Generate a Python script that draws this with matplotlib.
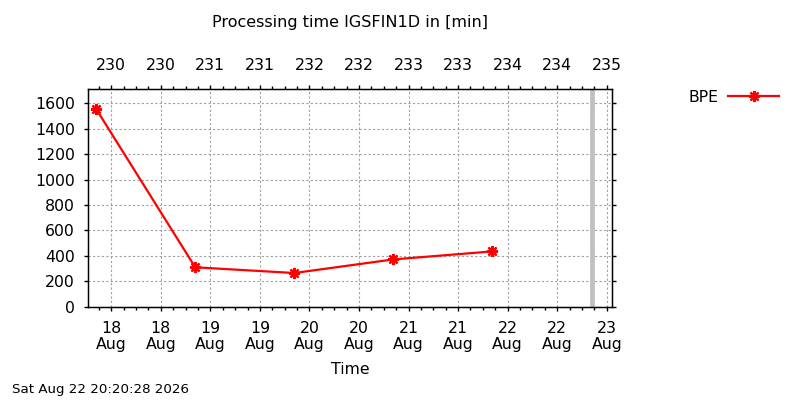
import matplotlib
matplotlib.use("Agg")
import matplotlib.pyplot as plt
import matplotlib.dates as mdates
from matplotlib.ticker import FixedLocator, MultipleLocator
from datetime import datetime

# ---- data ----
times = ["2026-08-17 20:20", "2026-08-18 20:20", "2026-08-19 20:20",
         "2026-08-20 20:20", "2026-08-21 20:20"]
bpe_values = [1555, 310, 265, 372, 435]
series_label = "BPE"
now_str = "2026-08-22 20:20"
x_start_str = "2026-08-17 18:26"
x_end_str = "2026-08-23 01:17"
y_max = 1710
y_ticks = [0, 200, 400, 600, 800, 1000, 1200, 1400, 1600]
bottom_tick_times = ["2026-08-18 00:00", "2026-08-18 12:00", "2026-08-19 00:00",
                     "2026-08-19 12:00", "2026-08-20 00:00", "2026-08-20 12:00",
                     "2026-08-21 00:00", "2026-08-21 12:00", "2026-08-22 00:00",
                     "2026-08-22 12:00", "2026-08-23 00:00"]
bottom_tick_labels = ["18\nAug", "18\nAug", "19\nAug", "19\nAug", "20\nAug", "20\nAug",
                      "21\nAug", "21\nAug", "22\nAug", "22\nAug", "23\nAug"]
top_tick_labels = ["230", "230", "231", "231", "232", "232", "233", "233", "234", "234", "235"]
title = "Processing time IGSFIN1D in [min]"
xlabel = "Time"
timestamp = "Sat Aug 22 20:20:28 2026"

fmt = "%Y-%m-%d %H:%M"
x = [mdates.date2num(datetime.strptime(t, fmt)) for t in times]
xt = [mdates.date2num(datetime.strptime(t, fmt)) for t in bottom_tick_times]
now = mdates.date2num(datetime.strptime(now_str, fmt))
x0 = mdates.date2num(datetime.strptime(x_start_str, fmt))
x1 = mdates.date2num(datetime.strptime(x_end_str, fmt))

plt.rcParams['font.family'] = ['DejaVu Sans']
FS = 11.3

fig = plt.figure(figsize=(8, 4), dpi=100)
ax = fig.add_axes([88.3 / 800, 1 - 306.7 / 400, (612 - 88.3) / 800, (306.7 - 89.3) / 400])

ax.axvline(now, color="#c0c0c0", lw=3.4, zorder=1)
ax.plot(x, bpe_values, color="red", lw=1.6, marker=(8, 2, 0), markersize=8,
        markeredgewidth=1.6, label=series_label, zorder=3)

ax.set_xlim(x0, x1)
ax.set_ylim(0, y_max)
ax.xaxis.set_major_locator(FixedLocator(xt))
ax.set_xticklabels(bottom_tick_labels, fontsize=FS, linespacing=1.12)
ax.xaxis.set_minor_locator(MultipleLocator(0.125))
ax.set_yticks(y_ticks)
ax.set_yticklabels([str(v) for v in y_ticks], fontsize=FS)
ax.tick_params(axis='both', which='major', direction='out', length=3, width=1)
ax.tick_params(axis='x', which='major', pad=7)
ax.tick_params(axis='y', which='major', pad=6.5, right=True)
ax.tick_params(axis='x', which='minor', direction='out', length=2, width=1)
ax.grid(True, which='major', color='#a0a0a0', linestyle=(0, (2, 2)), linewidth=0.8)
ax.set_axisbelow(True)
for s in ax.spines.values():
    s.set_linewidth(1)

ax.set_xlabel(xlabel, fontsize=FS, labelpad=7)

ax2 = ax.twiny()
ax2.set_xlim(x0, x1)
ax2.xaxis.set_major_locator(FixedLocator(xt))
ax2.set_xticklabels(top_tick_labels, fontsize=FS)
ax2.xaxis.set_minor_locator(MultipleLocator(0.125))
ax2.tick_params(axis='x', which='major', direction='out', length=3, width=1, pad=9)
ax2.tick_params(axis='x', which='minor', direction='out', length=2, width=1)

fig.text(350 / 800, 1 - 23 / 400, title, ha='center', va='center', fontsize=11.5)
fig.text(12 / 800, 1 - 390 / 400, timestamp, ha='left', va='center', fontsize=9.6)

handles, labels = ax.get_legend_handles_labels()
fig.legend(handles, labels, loc='center left', bbox_to_anchor=(689 / 800, 1 - 97 / 400),
           frameon=False, markerfirst=False, handlelength=3.2, handletextpad=0.6,
           borderpad=0, borderaxespad=0, fontsize=FS)

fig.savefig("out.png", dpi=100)
